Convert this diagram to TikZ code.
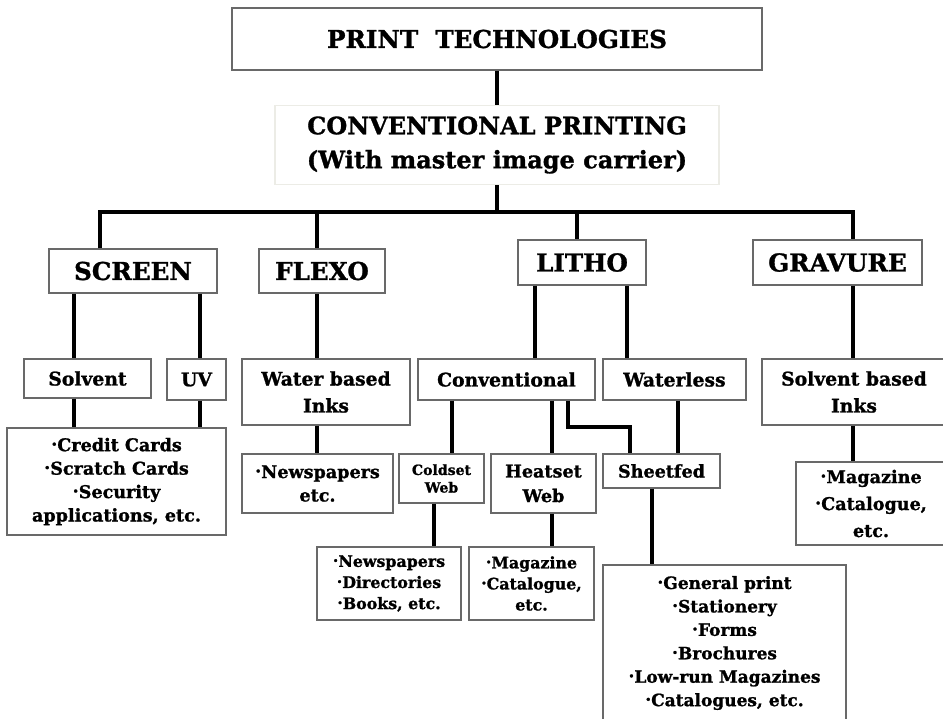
\documentclass[tikz,border=0pt]{standalone}
\usepackage{fontspec}
\setmainfont{DejaVu Serif}[BoldFeatures={FakeBold=1.2}]
\usepackage{xcolor}
\usepackage{tikz}
\usetikzlibrary{calc}
\definecolor{BoxEdge}{RGB}{105,105,105}
\definecolor{FaintEdge}{RGB}{236,236,230}
\newcommand{\listdot}{\raisebox{0.1ex}{\textperiodcentered}}

\begin{document}
\begin{tikzpicture}[x=0.03cm,y=-0.03cm,
  box/.style={draw=BoxEdge,line width=1pt,fill=white,align=center,inner sep=0pt,font=\bfseries},
  titlebox/.style={box,font=\bfseries\fontsize{21}{25}\selectfont},
  techbox/.style={box,font=\bfseries\fontsize{21}{25}\selectfont},
  subbox/.style={box,font=\bfseries\fontsize{16}{23}\selectfont},
  listbox/.style={box,font=\bfseries\fontsize{15}{20}\selectfont},
  smallbox/.style={box,font=\bfseries\fontsize{13.5}{18}\selectfont},
  link/.style={line width=3.3pt,black}]
  \useasboundingbox (0,0) rectangle (943,718);

  % top levels
  \node[titlebox,minimum width=15.9cm,minimum height=1.86cm] (print) at (497,39) {PRINT\ \ TECHNOLOGIES};
  \node[box,draw=FaintEdge,font=\bfseries\fontsize{20.5}{29}\selectfont,minimum width=13.32cm,minimum height=2.37cm] (conv) at (497,145)
    {CONVENTIONAL PRINTING\\(With master image carrier)};
  \coordinate (bar) at (497,212);

  % technologies
  \node[techbox,minimum width=5.04cm,minimum height=1.32cm] (screen) at (133,271) {SCREEN};
  \node[techbox,minimum width=3.78cm,minimum height=1.32cm] (flexo) at (322,271) {FLEXO};
  \node[techbox,minimum width=3.84cm,minimum height=1.35cm] (litho) at (582,262.5) {LITHO};
  \node[techbox,minimum width=5.07cm,minimum height=1.35cm] (gravure) at (837.5,262.5) {GRAVURE};

  % ink and process types
  \node[subbox,minimum width=3.81cm,minimum height=1.17cm] (solvent) at (87.5,378.5) {Solvent};
  \node[subbox,minimum width=1.77cm,minimum height=1.23cm] (uv) at (196.5,379.5) {UV};
  \node[subbox,minimum width=5.04cm,minimum height=1.98cm] (water) at (326,392) {Water based\\Inks};
  \node[subbox,minimum width=5.31cm,minimum height=1.23cm] (convlitho) at (506.5,379.5) {Conventional};
  \node[subbox,minimum width=4.29cm,minimum height=1.23cm] (waterless) at (674.5,379.5) {Waterless};
  \node[subbox,minimum width=5.52cm,minimum height=1.98cm] (solvbased) at (854,392) {Solvent based\\Inks};

  % presses
  \node[box,font=\bfseries\fontsize{12}{15}\selectfont,minimum width=2.55cm,minimum height=1.47cm] (coldset) at (441.5,478.5) {Coldset\\Web};
  \node[box,font=\bfseries\fontsize{15}{21}\selectfont,minimum width=3.15cm,minimum height=1.77cm] (heatset) at (543.5,483.5) {Heatset\\Web};
  \node[box,font=\bfseries\fontsize{15}{21}\selectfont,minimum width=3.51cm,minimum height=1.02cm] (sheetfed) at (661.5,471) {Sheetfed};

  % applications
  \node[listbox,minimum width=6.57cm,minimum height=3.21cm] (screenuse) at (116.5,481.5)
    {\listdot Credit Cards\\\listdot Scratch Cards\\\listdot Security\\applications, etc.};
  \node[listbox,minimum width=4.53cm,minimum height=1.77cm] (flexouse) at (317.5,483.5) {\listdot Newspapers\\etc.};
  \node[listbox,font=\bfseries\fontsize{15}{23}\selectfont,minimum width=4.5cm,minimum height=2.49cm] (gravureuse) at (871,503.5)
    {\listdot Magazine\\\listdot Catalogue,\\etc.};
  \node[smallbox,minimum width=4.32cm,minimum height=2.19cm] (coldsetuse) at (389,583.5)
    {\listdot Newspapers\\\listdot Directories\\\listdot Books, etc.};
  \node[smallbox,minimum width=3.75cm,minimum height=2.19cm] (heatsetuse) at (531.5,583.5)
    {\listdot Magazine\\\listdot Catalogue,\\etc.};
  \node[listbox,font=\bfseries\fontsize{14.5}{20}\selectfont,minimum width=7.29cm,minimum height=4.68cm] (sheetfeduse) at (724.5,643)
    {\listdot General print\\\listdot Stationery\\\listdot Forms\\\listdot Brochures\\\listdot Low-run Magazines\\\listdot Catalogues, etc.};

  % connectors
  \draw[link] (print.south) -- (conv.north);
  \draw[link] (conv.south) -- (bar);
  \draw[link] (screen.north -| 100,0) |- (bar) -| (gravure.north -| 853,0);
  \draw[link] (bar) -| (flexo.north -| 317,0);
  \draw[link] (bar) -| (litho.north -| 577,0);

  \draw[link] (screen.south -| 74,0) -- (solvent.north -| 74,0);
  \draw[link] (screen.south -| 200,0) -- (uv.north -| 200,0);
  \draw[link] (solvent.south -| 74,0) -- (screenuse.north -| 74,0);
  \draw[link] (uv.south -| 200,0) -- (screenuse.north -| 200,0);

  \draw[link] (flexo.south -| 317,0) -- (water.north -| 317,0);
  \draw[link] (water.south -| 317,0) -- (flexouse.north -| 317,0);

  \draw[link] (litho.south -| 535,0) -- (convlitho.north -| 535,0);
  \draw[link] (litho.south -| 627,0) -- (waterless.north -| 627,0);
  \draw[link] (convlitho.south -| 452,0) -- (coldset.north -| 452,0);
  \draw[link] (convlitho.south -| 552,0) -- (heatset.north -| 552,0);
  \coordinate (knee) at (630,427);
  \draw[link] (convlitho.south -| 568,0) |- (knee) -- (knee |- sheetfed.north);
  \draw[link] (waterless.south -| 678,0) -- (sheetfed.north -| 678,0);
  \draw[link] (coldset.south -| 434,0) -- (coldsetuse.north -| 434,0);
  \draw[link] (heatset.south -| 552,0) -- (heatsetuse.north -| 552,0);
  \draw[link] (sheetfed.south -| 652,0) -- (sheetfeduse.north -| 652,0);

  \draw[link] (gravure.south -| 853,0) -- (solvbased.north -| 853,0);
  \draw[link] (solvbased.south -| 853,0) -- (gravureuse.north -| 853,0);
\end{tikzpicture}
\end{document}
